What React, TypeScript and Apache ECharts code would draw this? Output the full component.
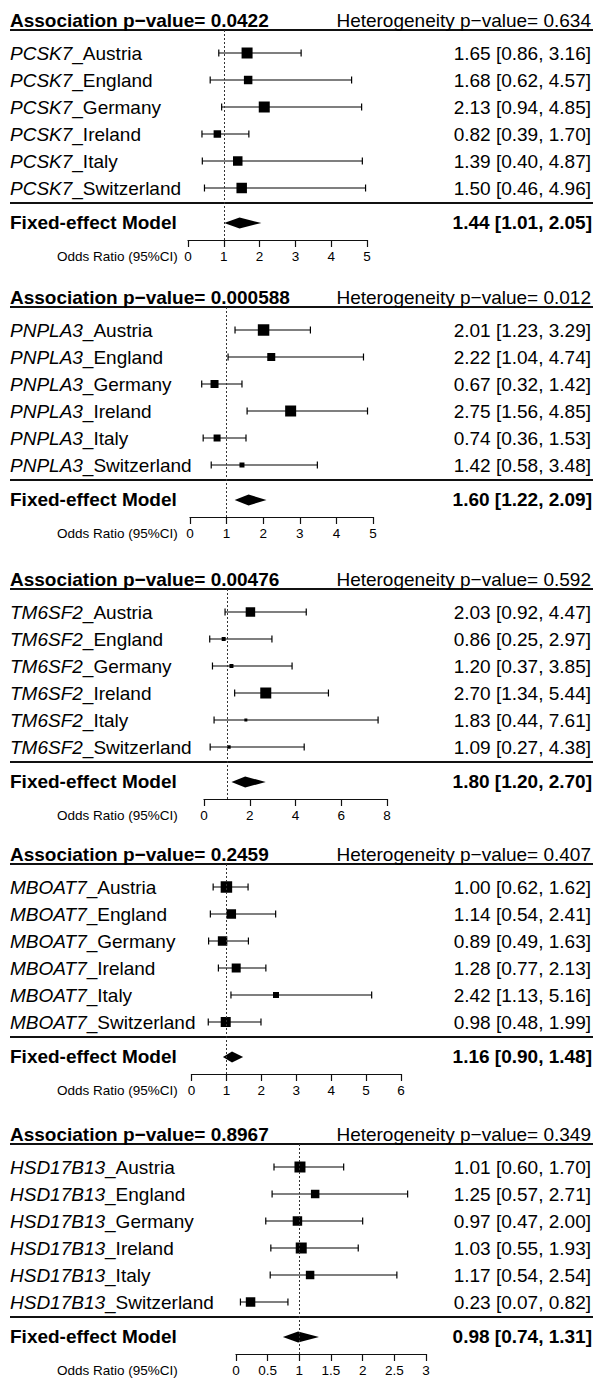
import React, { useEffect, useRef } from "react";
import * as echarts from "echarts";

// ---------------- data ----------------
const countries = ["Austria", "England", "Germany", "Ireland", "Italy", "Switzerland"];
const genes = ["PCSK7", "PNPLA3", "TM6SF2", "MBOAT7", "HSD17B13"];
const assocP = ["0.0422", "0.000588", "0.00476", "0.2459", "0.8967"];
const hetP = ["0.634", "0.012", "0.592", "0.407", "0.349"];

const pcsk7OR = [1.65, 1.68, 2.13, 0.82, 1.39, 1.5];
const pcsk7Lo = [0.86, 0.62, 0.94, 0.39, 0.4, 0.46];
const pcsk7Hi = [3.16, 4.57, 4.85, 1.7, 4.87, 4.96];
const pcsk7Box = [121, 72, 121, 56, 90, 110];

const pnpla3OR = [2.01, 2.22, 0.67, 2.75, 0.74, 1.42];
const pnpla3Lo = [1.23, 1.04, 0.32, 1.56, 0.36, 0.58];
const pnpla3Hi = [3.29, 4.74, 1.42, 4.85, 1.53, 3.48];
const pnpla3Box = [132, 64, 64, 121, 49, 25];

const tm6sf2OR = [2.03, 0.86, 1.2, 2.7, 1.83, 1.09];
const tm6sf2Lo = [0.92, 0.25, 0.37, 1.34, 0.44, 0.27];
const tm6sf2Hi = [4.47, 2.97, 3.85, 5.44, 7.61, 4.38];
const tm6sf2Box = [90, 16, 16, 121, 9, 12];

const mboat7OR = [1.0, 1.14, 0.89, 1.28, 2.42, 0.98];
const mboat7Lo = [0.62, 0.54, 0.49, 0.77, 1.13, 0.48];
const mboat7Hi = [1.62, 2.41, 1.63, 2.13, 5.16, 1.99];
const mboat7Box = [132, 90, 90, 81, 36, 100];

const hsd17b13OR = [1.01, 1.25, 0.97, 1.03, 1.17, 0.23];
const hsd17b13Lo = [0.6, 0.57, 0.47, 0.55, 0.54, 0.07];
const hsd17b13Hi = [1.7, 2.71, 2.0, 1.93, 2.54, 0.82];
const hsd17b13Box = [121, 72, 90, 121, 72, 90];

const pooledOR = [1.44, 1.6, 1.8, 1.16, 0.98];
const pooledLo = [1.01, 1.22, 1.2, 0.9, 0.74];
const pooledHi = [2.05, 2.09, 2.7, 1.48, 1.31];

const axisMax = [5, 5, 8, 6, 3];
const axisStep = [1, 1, 2, 1, 0.5];

const studyOR = [pcsk7OR, pnpla3OR, tm6sf2OR, mboat7OR, hsd17b13OR];
const studyLo = [pcsk7Lo, pnpla3Lo, tm6sf2Lo, mboat7Lo, hsd17b13Lo];
const studyHi = [pcsk7Hi, pnpla3Hi, tm6sf2Hi, mboat7Hi, hsd17b13Hi];
const studyBox = [pcsk7Box, pnpla3Box, tm6sf2Box, mboat7Box, hsd17b13Box];

// ---------------- layout ----------------
const W = 597;
const H = 1384;
const FONT = "'Liberation Sans', Arial, Helvetica, sans-serif";
const INK = "#000";
const FS = 19;
const SMALL = 13.5;
const panelTop = [30, 307, 589, 864, 1144];
const axisLeft = [188, 190, 204, 191.5, 236];
const axisRight = [367, 373, 387, 401, 426];
const ROW = 27;
const Y_MIN = -0.852;
const Y_MAX = 6.926;
const FIXED_ROW = 6.296;
const SEP_ROW = 5.556;
const TEXT_LEFT = 10;
const TEXT_RIGHT = 591;
const LINE_LEFT = 10;
const LINE_RIGHT = 593;

const fmt = (v: number) => v.toFixed(2);
const ciText = (o: number, l: number, h: number) => `${fmt(o)} [${fmt(l)}, ${fmt(h)}]`;

function makeRender(p: number) {
  return (params: any, api: any) => {
    const row = api.value(0);
    const est = api.value(1);
    const lo = api.value(2);
    const hi = api.value(3);
    const box = api.value(4);
    const kind = api.value(5);
    const pE = api.coord([est, row]);
    const pL = api.coord([lo, row]);
    const pH = api.coord([hi, row]);
    const y = pE[1];
    const children: any[] = [];
    if (kind === 0) {
      const idx = params.dataIndex;
      const s = Math.sqrt(box);
      children.push({
        type: "line",
        shape: { x1: pL[0], y1: y, x2: pH[0], y2: y },
        style: { stroke: INK, lineWidth: 1.2 },
      });
      children.push({
        type: "line",
        shape: { x1: pL[0], y1: y - 3.5, x2: pL[0], y2: y + 3.5 },
        style: { stroke: INK, lineWidth: 1.2 },
      });
      children.push({
        type: "line",
        shape: { x1: pH[0], y1: y - 3.5, x2: pH[0], y2: y + 3.5 },
        style: { stroke: INK, lineWidth: 1.2 },
      });
      children.push({
        type: "rect",
        shape: { x: pE[0] - s / 2, y: y - s / 2, width: s, height: s },
        style: { fill: INK },
      });
      children.push({
        type: "text",
        style: {
          text: `{g|${genes[p]}}{n|_${countries[idx]}}`,
          x: TEXT_LEFT,
          y,
          verticalAlign: "middle",
          align: "left",
          fontSize: FS,
          fontFamily: FONT,
          fill: INK,
          rich: {
            g: { fontStyle: "italic", fontSize: FS, fontFamily: FONT, fill: INK },
            n: { fontSize: FS, fontFamily: FONT, fill: INK },
          },
        },
      });
      children.push({
        type: "text",
        style: {
          text: ciText(est, lo, hi),
          x: TEXT_RIGHT,
          y,
          verticalAlign: "middle",
          align: "right",
          fontSize: FS,
          fontFamily: FONT,
          fill: INK,
        },
      });
    } else {
      // pooled diamond
      children.push({
        type: "polygon",
        shape: {
          points: [
            [pL[0], y],
            [pE[0], y - 5.5],
            [pH[0], y],
            [pE[0], y + 5.5],
          ],
        },
        style: { fill: INK },
      });
      children.push({
        type: "text",
        style: {
          text: "Fixed-effect Model",
          x: TEXT_LEFT,
          y,
          verticalAlign: "middle",
          align: "left",
          fontSize: FS,
          fontWeight: "bold",
          fontFamily: FONT,
          fill: INK,
        },
      });
      children.push({
        type: "text",
        style: {
          text: ciText(est, lo, hi),
          x: TEXT_RIGHT + 1,
          y,
          verticalAlign: "middle",
          align: "right",
          fontSize: FS,
          fontWeight: "bold",
          fontFamily: FONT,
          fill: INK,
        },
      });
      // frame lines and headers
      const yTop = api.coord([0, Y_MIN])[1];
      const ySep = api.coord([0, SEP_ROW])[1];
      const yAxis = api.coord([0, Y_MAX])[1];
      children.push({
        type: "line",
        shape: { x1: LINE_LEFT, y1: yTop, x2: LINE_RIGHT, y2: yTop },
        style: { stroke: "#111", lineWidth: 2 },
      });
      children.push({
        type: "line",
        shape: { x1: LINE_LEFT, y1: ySep, x2: LINE_RIGHT, y2: ySep },
        style: { stroke: "#111", lineWidth: 2 },
      });
      children.push({
        type: "text",
        style: {
          text: `Association p\u2212value= ${assocP[p]}`,
          x: TEXT_LEFT,
          y: yTop,
          verticalAlign: "bottom",
          align: "left",
          fontSize: FS,
          fontWeight: "bold",
          fontFamily: FONT,
          fill: INK,
        },
      });
      children.push({
        type: "text",
        style: {
          text: `Heterogeneity p\u2212value= ${hetP[p]}`,
          x: TEXT_RIGHT,
          y: yTop,
          verticalAlign: "bottom",
          align: "right",
          fontSize: FS,
          fontFamily: FONT,
          fill: INK,
        },
      });
      children.push({
        type: "text",
        style: {
          text: "Odds Ratio (95%CI)",
          x: 57,
          y: yAxis + 16,
          verticalAlign: "middle",
          align: "left",
          fontSize: SMALL,
          fontFamily: FONT,
          fill: INK,
        },
      });
    }
    return { type: "group", children };
  };
}

function buildOption() {
  const grid: any[] = [];
  const xAxis: any[] = [];
  const yAxis: any[] = [];
  const series: any[] = [];
  for (let p = 0; p < genes.length; p++) {
    grid.push({
      left: axisLeft[p],
      top: panelTop[p],
      width: axisRight[p] - axisLeft[p],
      height: (Y_MAX - Y_MIN) * ROW,
      containLabel: false,
    });
    xAxis.push({
      type: "value",
      gridIndex: p,
      min: 0,
      max: axisMax[p],
      interval: axisStep[p],
      position: "bottom",
      axisLine: { show: true, onZero: false, lineStyle: { color: "#111", width: 1.2 } },
      axisTick: { show: true, inside: false, length: 7, lineStyle: { color: "#111", width: 1.2 } },
      axisLabel: { show: true, fontSize: SMALL, color: INK, fontFamily: FONT, margin: 9 },
      splitLine: { show: false },
    });
    yAxis.push({
      type: "value",
      gridIndex: p,
      min: Y_MIN,
      max: Y_MAX,
      inverse: true,
      show: false,
      splitLine: { show: false },
    });
    const data: any[] = studyOR[p].map((o, i) => [i, o, studyLo[p][i], studyHi[p][i], studyBox[p][i], 0]);
    data.push([FIXED_ROW, pooledOR[p], pooledLo[p], pooledHi[p], 0, 1]);
    series.push({
      type: "custom",
      xAxisIndex: p,
      yAxisIndex: p,
      clip: false,
      silent: true,
      data,
      renderItem: makeRender(p),
      markLine: {
        silent: true,
        symbol: ["none", "none"],
        label: { show: false },
        lineStyle: { type: [2, 2], color: "#333", width: 1 },
        data: [{ xAxis: 1 }],
      },
    });
  }
  return {
    animation: false,
    backgroundColor: "#fff",
    grid,
    xAxis,
    yAxis,
    series,
  };
}

export default function App() {
  const ref = useRef<HTMLDivElement>(null);
  useEffect(() => {
    if (!ref.current) return;
    const chart = echarts.init(ref.current, undefined, { renderer: "svg" });
    chart.setOption(buildOption() as any);
    return () => chart.dispose();
  }, []);
  return (
    <div
      ref={ref}
      style={{ position: "absolute", left: 0, top: 0, width: W, height: H, background: "#fff" }}
    />
  );
}
